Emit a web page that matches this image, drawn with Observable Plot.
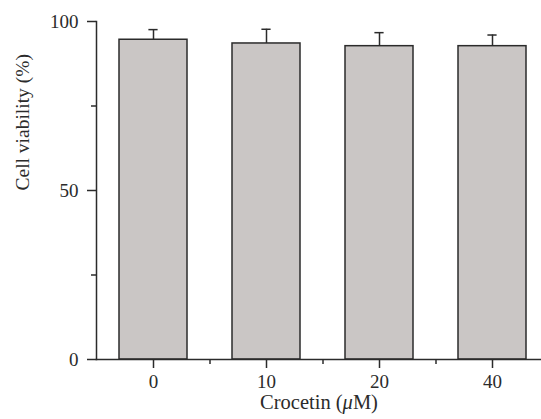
<!DOCTYPE html>
<html>
<head>
<meta charset="utf-8">
<script src="https://cdn.jsdelivr.net/npm/d3@7"></script>
<script src="https://cdn.jsdelivr.net/npm/@observablehq/plot@0.6"></script>
<style>
  html, body { margin: 0; padding: 0; background: #fff; }
  #chart svg { display: block; }
</style>
</head>
<body>
<div id="chart"></div>
<script>
const categories = ["0", "10", "20", "40"];
const viability = [94.6, 93.5, 92.7, 92.7];
const errorUpper = [3.0, 4.2, 4.0, 3.3];
const yTicks = [0, 50, 100];
const yMinorTicks = [25, 75];
const xLabel = "Crocetin (μM)";
const yLabel = "Cell viability (%)";

const data = categories.map((c, i) => ({
  dose: c,
  value: viability[i],
  upper: viability[i] + errorUpper[i]
}));

const W = 541, H = 419;
const xRange = [96, 548];
const step = (xRange[1] - xRange[0]) / categories.length;
const barPad = 0.4;
const bandW = step * (1 - barPad);
const capW = 9;
const font = "'Liberation Serif', 'Times New Roman', serif";
const ink = "#2b2b2b";

const chart = Plot.plot({
  width: W,
  height: H,
  marginLeft: 96,
  marginRight: 0,
  marginTop: 21,
  marginBottom: 60,
  style: { fontFamily: font, fontSize: "19px", color: ink, background: "#fff" },
  x: { domain: categories, range: xRange, paddingInner: barPad, paddingOuter: barPad / 2, align: 0.5 },
  y: { domain: [0, 100] },
  marks: [
    Plot.barY(data, { x: "dose", y: "value", fill: "#cac6c5", stroke: ink, strokeWidth: 1.5 }),
    Plot.ruleX(data, { x: "dose", y1: "value", y2: "upper", stroke: ink, strokeWidth: 1.5 }),
    Plot.tickY(data, { x: "dose", y: "upper", stroke: ink, strokeWidth: 1.5,
      insetLeft: (bandW - capW) / 2, insetRight: (bandW - capW) / 2 }),
    Plot.frame({ anchor: "left", stroke: ink, strokeWidth: 1.5 }),
    Plot.frame({ anchor: "bottom", stroke: ink, strokeWidth: 1.5 }),
    Plot.axisY(yTicks, { tickSize: 9, tickPadding: 9, stroke: ink, strokeWidth: 1.5, label: null, fontSize: 19 }),
    Plot.axisY(yMinorTicks, { tickSize: 5, text: null, stroke: ink, strokeWidth: 1.5, label: null }),
    Plot.axisX(categories, { tickSize: 9, tickPadding: 6, stroke: ink, strokeWidth: 1.5, label: null, fontSize: 19 }),
    Plot.axisX(categories.slice(0, -1), { tickSize: 5, text: null, dx: step / 2, stroke: ink, strokeWidth: 1.5, label: null }),
    Plot.text([yLabel], { frameAnchor: "left", dx: -74, rotate: -90, fontSize: 19.5, fill: ink }),
    Plot.text([xLabel], { frameAnchor: "bottom", dy: 49, fontSize: 20.5, fill: ink, className: "xlabel" })
  ]
});

document.getElementById("chart").appendChild(chart);

// italicise the μ in the x-axis title
d3.select(chart).selectAll("g.xlabel text").each(function () {
  const t = d3.select(this);
  const s = t.text();
  const i = s.indexOf("μ");
  if (i < 0) return;
  t.text(null);
  t.append("tspan").text(s.slice(0, i));
  t.append("tspan").attr("font-style", "italic").text("μ");
  t.append("tspan").text(s.slice(i + 1));
});
</script>
</body>
</html>
